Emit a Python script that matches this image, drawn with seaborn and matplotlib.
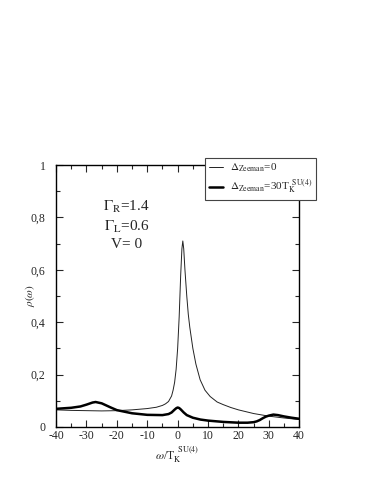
import matplotlib
matplotlib.use("Agg")
import matplotlib.pyplot as plt
import seaborn as sns
import pandas as pd
from matplotlib.ticker import MultipleLocator, FuncFormatter

# data
omega_zero = [-40, -35, -30, -25, -20, -15, -10, -7, -5, -4, -3, -2, -1.5, -1, -0.5, 0, 0.5, 1.0, 1.4, 1.7, 2.0, 2.4, 3.0, 3.5, 4.0, 5.0, 6.0, 7.4, 9.0, 10.7, 13, 15, 17.5, 20, 25, 30, 35, 40]
rho_zero = [0.065, 0.063, 0.062, 0.061, 0.062, 0.065, 0.070, 0.075, 0.082, 0.088, 0.097, 0.118, 0.14, 0.17, 0.22, 0.30, 0.42, 0.58, 0.68, 0.71, 0.68, 0.60, 0.50, 0.43, 0.38, 0.30, 0.24, 0.18, 0.14, 0.116, 0.095, 0.085, 0.074, 0.065, 0.051, 0.041, 0.034, 0.028]

omega_zee = [-40, -35, -32, -30, -28, -27, -25, -22, -20, -15, -10, -5, -3, -2, -1, -0.5, 0, 0.5, 1, 2, 3, 5, 7.5, 10, 15, 20, 23, 25, 26, 27, 28, 29, 30, 31.5, 33, 35, 37.5, 40]
rho_zee = [0.069, 0.073, 0.078, 0.085, 0.093, 0.095, 0.090, 0.074, 0.064, 0.052, 0.046, 0.045, 0.049, 0.055, 0.066, 0.071, 0.074, 0.072, 0.067, 0.055, 0.045, 0.035, 0.028, 0.024, 0.019, 0.016, 0.016, 0.018, 0.021, 0.026, 0.033, 0.039, 0.043, 0.047, 0.045, 0.040, 0.035, 0.031]

label_zero = r'$\Delta_{\mathrm{Zeeman}}$=0'
label_zee = r'$\Delta_{\mathrm{Zeeman}}$=30T$_{\mathrm{K}}^{\ \ \mathrm{SU(4)}}$'

sns.set_style("ticks")
plt.rcParams['font.family'] = ['Liberation Serif', 'DejaVu Serif']
plt.rcParams['mathtext.fontset'] = 'stix'

fig = plt.figure(figsize=(3.74, 4.84), dpi=100)
ax = fig.add_axes([0.150, 0.118, 0.650, 0.541])

df0 = pd.DataFrame({'omega': omega_zero, 'rho': rho_zero})
df1 = pd.DataFrame({'omega': omega_zee, 'rho': rho_zee})
sns.lineplot(data=df0, x='omega', y='rho', ax=ax, color='#222222', lw=0.7, label=label_zero, sort=False)
sns.lineplot(data=df1, x='omega', y='rho', ax=ax, color='black', lw=1.8, label=label_zee, sort=False)

ax.set_xlim(-40, 40)
ax.set_ylim(0, 1)
ax.xaxis.set_major_locator(MultipleLocator(10))
ax.xaxis.set_minor_locator(MultipleLocator(5))
ax.yaxis.set_major_locator(MultipleLocator(0.2))
ax.yaxis.set_minor_locator(MultipleLocator(0.1))
ax.yaxis.set_major_formatter(FuncFormatter(lambda v, p: '0' if abs(v) < 1e-9 else ('1' if abs(v - 1) < 1e-9 else f'{v:.1f}'.replace('.', ','))))
ax.xaxis.set_major_formatter(FuncFormatter(lambda v, p: f'{v:.0f}'))
ax.tick_params(which='both', direction='in', top=True, right=True, labelsize=8.5, width=0.8)
ax.tick_params(axis='x', pad=2.5)
ax.tick_params(axis='y', pad=7.5)
ax.tick_params(which='major', length=5)
ax.tick_params(which='minor', length=3)
for s in ax.spines.values():
    s.set_linewidth(1.0)
    s.set_color('black')

ax.set_xlabel(r'$\omega$/T$_{\mathrm{K}}^{\ \ \mathrm{SU(4)}}$', fontsize=8.5, labelpad=2)
ax.set_ylabel(r'$\rho(\omega)$', fontsize=8, labelpad=-4.5)

ax.text(0.29, 0.84, r'$\Gamma_{\mathrm{R}}$=1.4', transform=ax.transAxes, ha='center', va='center', fontsize=11)
ax.text(0.29, 0.765, r'$\Gamma_{\mathrm{L}}$=0.6', transform=ax.transAxes, ha='center', va='center', fontsize=11)
ax.text(0.29, 0.695, 'V= 0', transform=ax.transAxes, ha='center', va='center', fontsize=11)

ax.get_legend().remove()
h, l = ax.get_legend_handles_labels()
leg = fig.legend(h, l, loc='upper left', bbox_to_anchor=(205/374, 1 - 158/484), fontsize=8,
                 frameon=True, fancybox=False, edgecolor='#444444', framealpha=1,
                 handlelength=1.3, borderpad=0.35, labelspacing=0.3, handletextpad=0.6,
                 borderaxespad=0)
leg.get_frame().set_linewidth(0.8)

fig.savefig('out.png', dpi=100)
